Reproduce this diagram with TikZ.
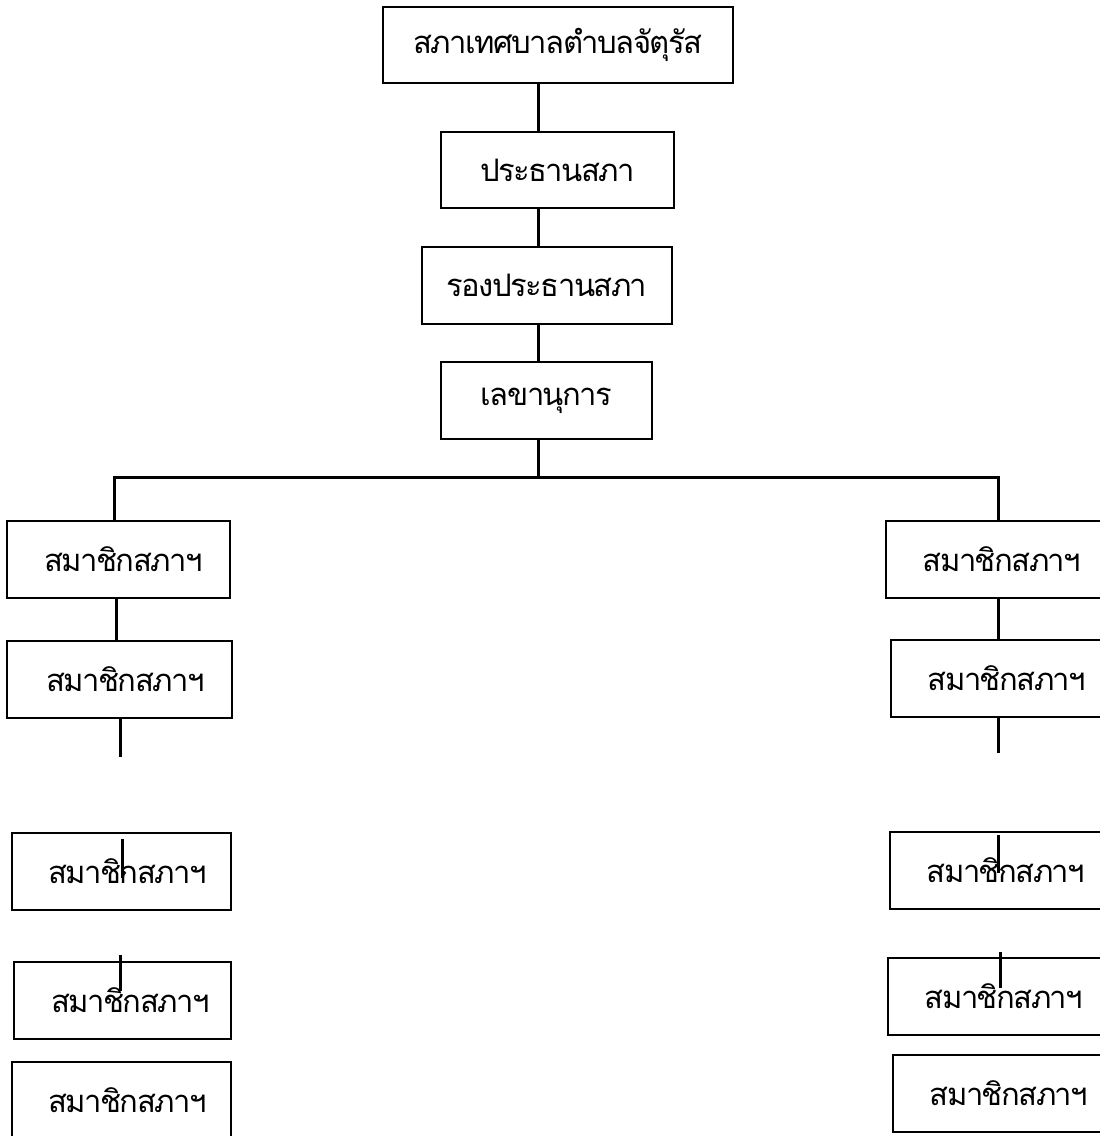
\documentclass[tikz,border=0pt]{standalone}
\usepackage{fontspec}
\newfontfamily\thaifont[Script=Thai,LetterSpace=-5]{Loma}
\usetikzlibrary{positioning}

\begin{document}
\begin{tikzpicture}[x=1pt,y=-1pt,-,line join=miter,
    main node/.style={draw,rectangle,line width=1.5pt,inner sep=0pt,minimum height=77pt,font=\thaifont\fontsize{31}{36}\selectfont},
    member/.style={main node,minimum width=220pt},
    link/.style={line width=3pt}]
    \useasboundingbox (0,0) rectangle (1100,1136);

    % top of the chart
    \node[main node,minimum width=350pt,minimum height=76pt] (council) at (558,45) {สภาเทศบาลตำบลจัตุรัส};
    \node[main node,minimum width=233pt,minimum height=76pt] (chair) at (557.5,170) {ประธานสภา};
    \node[main node,minimum width=250pt] (vice) at (547,285.5) {รองประธานสภา};
    \node[main node,minimum width=211pt] (clerk) at (546.5,400.5) {เลขานุการ};

    % members, left column
    \node[member,minimum width=223pt] (l1) at (118.5,559.5) {\hspace*{10pt}สมาชิกสภาฯ};
    \node[member,minimum width=225pt] (l2) at (119.5,679.5) {\hspace*{12pt}สมาชิกสภาฯ};
    \node[member,minimum width=219pt] (l3) at (121.5,871.5) {\hspace*{12pt}สมาชิกสภาฯ};
    \node[member,minimum width=217pt] (l4) at (122.5,1000.5) {\hspace*{16pt}สมาชิกสภาฯ};
    \node[member,minimum width=219pt] (l5) at (121.5,1100.5) {\hspace*{12pt}สมาชิกสภาฯ};

    % members, right column
    \node[member,minimum width=232pt] (r1) at (1002,559.5) {สมาชิกสภาฯ};
    \node[member,minimum width=232pt] (r2) at (1007,678.5) {สมาชิกสภาฯ};
    \node[member,minimum width=232pt] (r3) at (1006,870.5) {สมาชิกสภาฯ};
    \node[member,minimum width=232pt] (r4) at (1004,996.5) {สมาชิกสภาฯ};
    \node[member,minimum width=232pt] (r5) at (1009,1093.5) {สมาชิกสภาฯ};

    \coordinate (spine) at (538,477);
    \coordinate (lbranch) at (114,477);
    \coordinate (rbranch) at (998,477);
    \coordinate (lend1) at (120,757);
    \coordinate (lend2a) at (122,839);
    \coordinate (lend2b) at (122,878);
    \coordinate (lend3a) at (120,955);
    \coordinate (lend3b) at (120,991);
    \coordinate (rend1) at (998,753);
    \coordinate (rend2a) at (998,835);
    \coordinate (rend2b) at (998,873);
    \coordinate (rend3a) at (1000,952);
    \coordinate (rend3b) at (1000,988);

    \draw[link] (council.south -| spine) -- (chair.north -| spine);
    \draw[link] (chair.south -| spine) -- (vice.north -| spine);
    \draw[link] (vice.south -| spine) -- (clerk.north -| spine);
    \draw[link] (clerk.south -| spine) -- (spine);
    \draw[link] (l1.north -| lbranch) -- (lbranch) -- (rbranch) -- (r1.north -| rbranch);

    \draw[link] (l1.south -| 116,0) -- (l2.north -| 116,0);
    \draw[link] (l2.south -| lend1) -- (lend1);
    \draw[link] (lend2a) -- (lend2b);
    \draw[link] (lend3a) -- (lend3b);

    \draw[link] (r1.south -| rbranch) -- (r2.north -| rbranch);
    \draw[link] (r2.south -| rend1) -- (rend1);
    \draw[link] (rend2a) -- (rend2b);
    \draw[link] (rend3a) -- (rend3b);
\end{tikzpicture}
\end{document}
